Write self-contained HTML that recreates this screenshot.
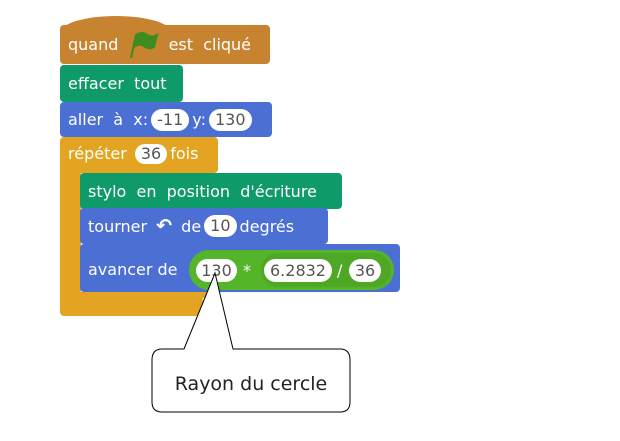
<!DOCTYPE html>
<html><head><meta charset="utf-8"><style>
body{margin:0;width:620px;height:441px;background:#fff;position:relative;overflow:hidden;font-family:"DejaVu Sans","Liberation Sans",sans-serif;}
.b{position:absolute;border-radius:4px;color:#fff;font-size:16px;display:flex;align-items:center;box-sizing:border-box;padding-left:8px;white-space:pre;}
.p{display:inline-block;background:#fff;color:#555;border-radius:12px;padding:0 6px;height:22px;line-height:22px;margin:0 3px;}
.brown{background:#c88330;}
.green{background:#0f9a6a;}
.blue{background:#4c6fd3;}
.yel{background:#e3a521;}
</style></head><body>
<div style="position:absolute;left:60px;top:16px;width:112px;height:30px;background:#c88330;border-radius:60px 60px 0 0/18px 18px 0 0;"></div>
<div class="b brown" style="left:60px;top:25px;width:210px;height:39px;">quand <svg width="32" height="28" viewBox="0 0 32 28" style="margin:0 4px"><path d="M4 27 L9 4 Q15 0 20 4 Q25 7 30 4 L27 16 Q22 19 17 15 Q12 12 7 16" fill="#3e8b1f" stroke="#3e8b1f" stroke-width="2"/></svg> est  cliqué</div>
<div class="b green" style="left:60px;top:65px;width:123px;height:37px;">effacer  tout</div>
<div class="b blue" style="left:60px;top:102px;width:212px;height:35px;">aller  à  x:<span class="p">-11</span>y:<span class="p">130</span></div>
<div class="b yel" style="left:60px;top:137px;width:158px;height:36px;align-items:flex-start;padding-top:7px;">répéter <span class="p" style="height:20px;line-height:20px;margin-top:0px">36</span>fois</div>
<div style="position:absolute;left:60px;top:170px;width:21px;height:130px;background:#e3a521;"></div>
<div style="position:absolute;left:60px;top:292px;width:158px;height:24px;background:#e3a521;border-radius:0 4px 4px 4px;"></div>
<div style="position:absolute;left:200px;top:294px;color:#fff;font-size:14px;font-weight:bold;">↱</div>
<div class="b green" style="left:80px;top:173px;width:262px;height:36px;">stylo  en  position  d'écriture</div>
<div class="b blue" style="left:80px;top:208px;width:248px;height:36px;">tourner <span style="font-size:19px;font-weight:bold;margin:0 4px">↶</span> de<span class="p">10</span>degrés</div>
<div class="b blue" style="left:80px;top:244px;width:320px;height:48px;padding-top:2px;">avancer de</div>
<div style="position:absolute;left:189px;top:250px;width:205px;height:40px;background:#55b52a;border-radius:20px;"></div>
<div style="position:absolute;left:261px;top:253px;width:130px;height:34px;background:#4ea826;border-radius:17px;"></div>
<div style="position:absolute;left:196px;top:259px;width:41px;height:23px;background:#fff;border-radius:12px;color:#555;font-size:16px;text-align:center;line-height:23px;">130</div>
<div style="position:absolute;left:243px;top:259px;color:#fff;font-size:16px;line-height:23px;">*</div>
<div style="position:absolute;left:264px;top:259px;width:68px;height:23px;background:#fff;border-radius:12px;color:#555;font-size:16px;text-align:center;line-height:23px;">6.2832</div>
<div style="position:absolute;left:337px;top:259px;color:#fff;font-size:16px;line-height:23px;">/</div>
<div style="position:absolute;left:349px;top:259px;width:32px;height:23px;background:#fff;border-radius:12px;color:#555;font-size:16px;text-align:center;line-height:23px;">36</div>
<svg style="position:absolute;left:0;top:0" width="620" height="441">
<path d="M184 349 L215 273 L233 349 L340 349 Q350 349 350 360 L350 402 Q350 412 340 412 L162 412 Q152 412 152 402 L152 360 Q152 349 162 349 Z" fill="#fff" stroke="#000" stroke-width="1"/>
<text x="251" y="390" text-anchor="middle" font-family="DejaVu Sans, sans-serif" font-size="19" fill="#222">Rayon du cercle</text>
</svg>
</body></html>
